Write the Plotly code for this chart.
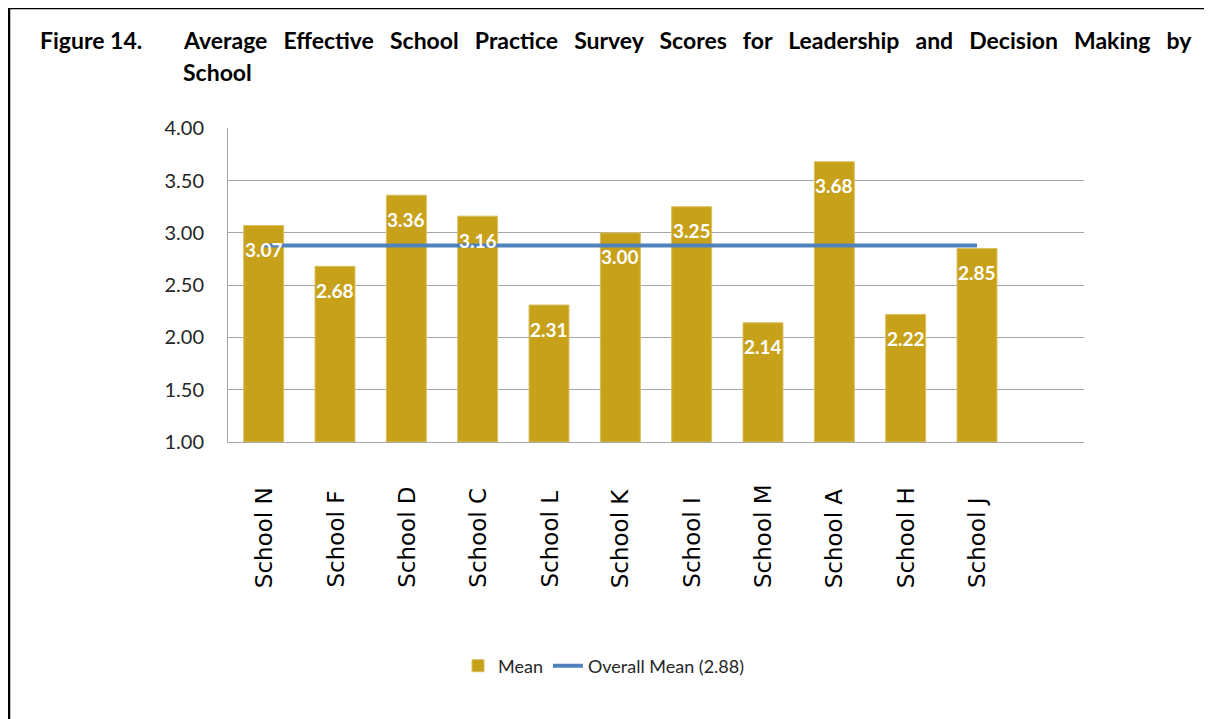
import plotly.graph_objects as go

schools = ["School N", "School F", "School D", "School C", "School L", "School K",
           "School I", "School M", "School A", "School H", "School J"]
means = [3.07, 2.68, 3.36, 3.16, 2.31, 3.00, 3.25, 2.14, 3.68, 2.22, 2.85]
overall_mean = 2.88
y_ticks = [1.0, 1.5, 2.0, 2.5, 3.0, 3.5, 4.0]

OFF = 8  # page body margin
W, H = 1212 - OFF, 719 - OFF
L, R, T, B = 228 - OFF, 1084 - OFF, 128 - OFF, 442 - OFF


def px(x):
    return (x - OFF - L) / (R - L)


def py(y):
    return (B - (y - OFF)) / (B - T)


fig = go.Figure()
fig.add_trace(go.Bar(
    x=schools, y=[m - 1.0 for m in means], base=1.0, name="Mean",
    marker=dict(color="#C8A11A", line=dict(color="#D9BF5E", width=1)),
    hoverinfo="skip",
))
fig.add_trace(go.Scatter(
    x=schools, y=[overall_mean] * len(schools), mode="lines",
    name=f"Overall Mean ({overall_mean:.2f})",
    line=dict(color="#4F81BD", width=4),
))

annotations = []
for s, m in zip(schools, means):
    annotations.append(dict(
        x=s, y=m, xref="x", yref="y", text=f"{m:.2f}", showarrow=False,
        yshift=-24, yanchor="middle",
        font=dict(family="Lato", size=19, color="white", weight="bold"),
    ))
    annotations.append(dict(
        x=s, y=py(590), xref="x", yref="paper", text=s, showarrow=False,
        textangle=-90, yanchor="bottom", xanchor="center",
        font=dict(family="DejaVu Sans", size=23, color="black"),
    ))

title_font = dict(family="Lato", size=23, color="black")
annotations.append(dict(
    x=px(38), y=py(40), xref="paper", yref="paper", text="<b>Figure 14.</b>",
    showarrow=False, xanchor="left", yanchor="middle", font=title_font,
))
annotations.append(dict(
    x=px(181), y=py(40), xref="paper", yref="paper",
    text="<span style=\"word-spacing:10.5px\"><b>Average Effective School Practice Survey Scores "
         "for Leadership and Decision Making by</b></span>",
    showarrow=False, xanchor="left", yanchor="middle", font=title_font,
))
annotations.append(dict(
    x=px(181), y=py(72), xref="paper", yref="paper", text="<b>School</b>",
    showarrow=False, xanchor="left", yanchor="middle", font=title_font,
))

shapes = [
    dict(type="line", xref="paper", yref="paper", x0=px(9), y0=py(8), x1=px(1212), y1=py(8),
         line=dict(color="black", width=2.5)),
    dict(type="line", xref="paper", yref="paper", x0=px(9), y0=py(8), x1=px(9), y1=py(719),
         line=dict(color="black", width=2.5)),
]

fig.update_layout(
    width=W, height=H,
    margin=dict(l=L, r=W - R, t=T, b=H - B),
    paper_bgcolor="white", plot_bgcolor="white",
    bargap=0.44,
    showlegend=True,
    legend=dict(orientation="h", x=px(604), y=py(666), xanchor="center", yanchor="middle",
                font=dict(family="Lato", size=18, color="#262626")),
    xaxis=dict(range=[-0.5, 11.5], showticklabels=False, showgrid=False,
               showline=True, linecolor="#A6A6A6", linewidth=1, zeroline=False),
    yaxis=dict(range=[1, 4.003], tickvals=y_ticks, tickformat=".2f", showgrid=True,
               gridcolor="#A6A6A6", gridwidth=1, showline=True, linecolor="#A6A6A6",
               linewidth=1, zeroline=False, ticklabelstandoff=19,
               tickfont=dict(family="Lato", size=20, color="#262626")),
    annotations=annotations,
    shapes=shapes,
)

fig.write_html("out.html")
